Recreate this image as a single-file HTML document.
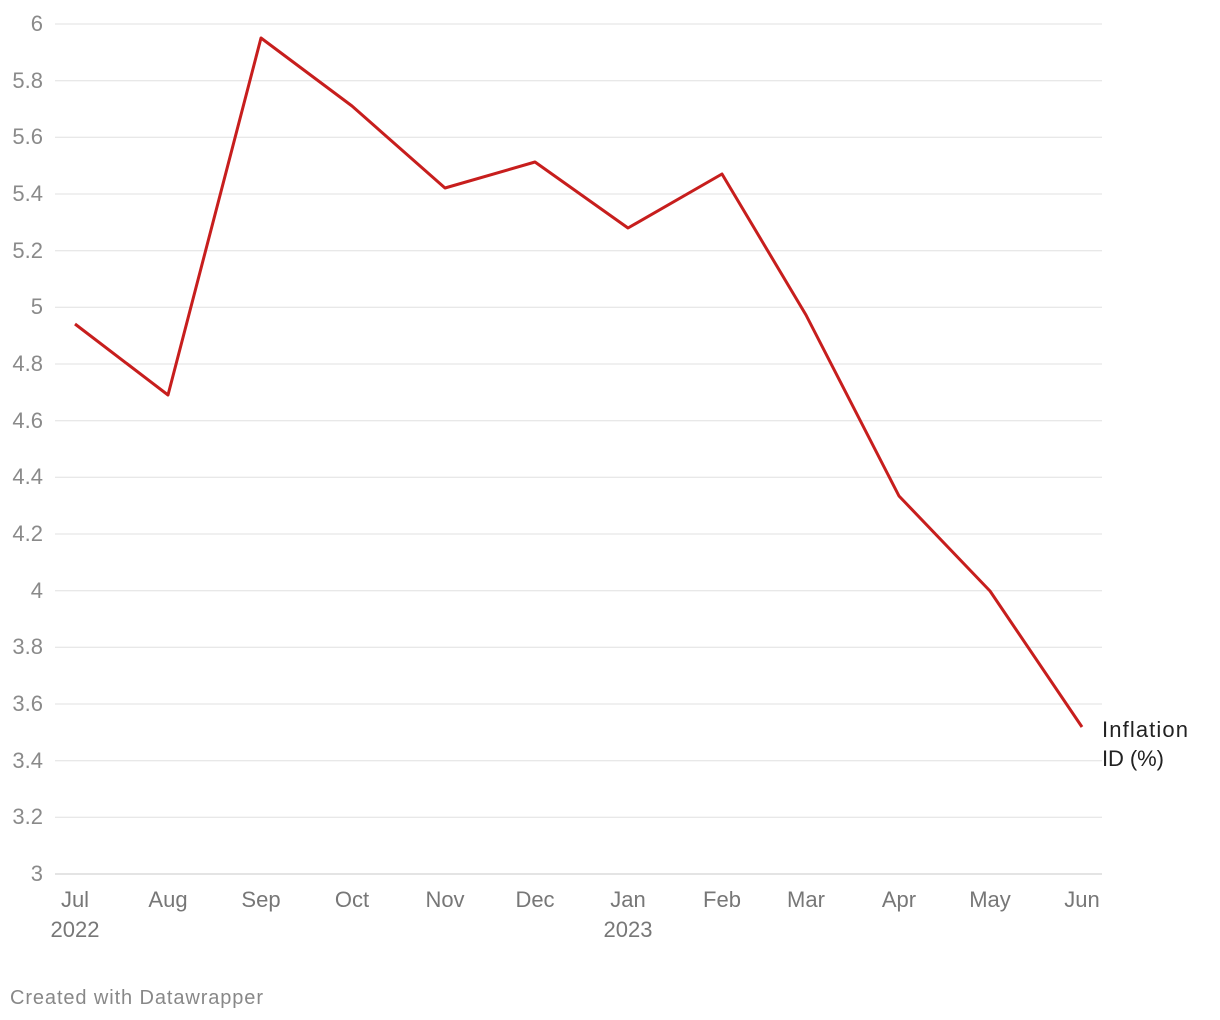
<!DOCTYPE html>
<html><head><meta charset="utf-8"><style>
body{margin:0;background:#fff;}
svg{display:block;font-family:"Liberation Sans",Arial,sans-serif;}
</style></head><body>
<svg width="1220" height="1020" xmlns="http://www.w3.org/2000/svg">
<g stroke="#e0e0e0" stroke-width="1">
<line x1="55" x2="1102" y1="24" y2="24"/>
<line x1="55" x2="1102" y1="80.7" y2="80.7"/>
<line x1="55" x2="1102" y1="137.3" y2="137.3"/>
<line x1="55" x2="1102" y1="194" y2="194"/>
<line x1="55" x2="1102" y1="250.7" y2="250.7"/>
<line x1="55" x2="1102" y1="307.3" y2="307.3"/>
<line x1="55" x2="1102" y1="364" y2="364"/>
<line x1="55" x2="1102" y1="420.7" y2="420.7"/>
<line x1="55" x2="1102" y1="477.3" y2="477.3"/>
<line x1="55" x2="1102" y1="534" y2="534"/>
<line x1="55" x2="1102" y1="590.7" y2="590.7"/>
<line x1="55" x2="1102" y1="647.3" y2="647.3"/>
<line x1="55" x2="1102" y1="704" y2="704"/>
<line x1="55" x2="1102" y1="760.7" y2="760.7"/>
<line x1="55" x2="1102" y1="817.3" y2="817.3"/>
</g>
<line x1="55" x2="1102" y1="874" y2="874" stroke="#c8c8c8" stroke-width="1"/>
<g fill="#8a8a8a" font-size="22" text-anchor="end">
<text x="43" y="31">6</text>
<text x="43" y="88">5.8</text>
<text x="43" y="144">5.6</text>
<text x="43" y="201">5.4</text>
<text x="43" y="258">5.2</text>
<text x="43" y="314">5</text>
<text x="43" y="371">4.8</text>
<text x="43" y="428">4.6</text>
<text x="43" y="484">4.4</text>
<text x="43" y="541">4.2</text>
<text x="43" y="598">4</text>
<text x="43" y="654">3.8</text>
<text x="43" y="711">3.6</text>
<text x="43" y="768">3.4</text>
<text x="43" y="824">3.2</text>
<text x="43" y="881">3</text>
</g>
<g fill="#777" font-size="22" text-anchor="middle">
<text x="75" y="907">Jul</text><text x="75" y="937">2022</text>
<text x="168" y="907">Aug</text>
<text x="261" y="907">Sep</text>
<text x="352" y="907">Oct</text>
<text x="445" y="907">Nov</text>
<text x="535" y="907">Dec</text>
<text x="628" y="907">Jan</text><text x="628" y="937">2023</text>
<text x="722" y="907">Feb</text>
<text x="806" y="907">Mar</text>
<text x="899" y="907">Apr</text>
<text x="990" y="907">May</text>
<text x="1082" y="907">Jun</text>
</g>
<polyline fill="none" stroke="#c71e1d" stroke-width="3" stroke-linejoin="round" points="75,324 168,395 261,38 352,106 445,188 535,162 628,228 722,174 806,315 899,496 990,591 1082,727"/>
<g fill="#222" font-size="22">
<text x="1102" y="737" textLength="86">Inflation</text>
<text x="1102" y="766" textLength="62">ID (%)</text>
</g>
<text x="10" y="1004" fill="#888" font-size="20" textLength="253">Created with Datawrapper</text>
</svg>
</body></html>
